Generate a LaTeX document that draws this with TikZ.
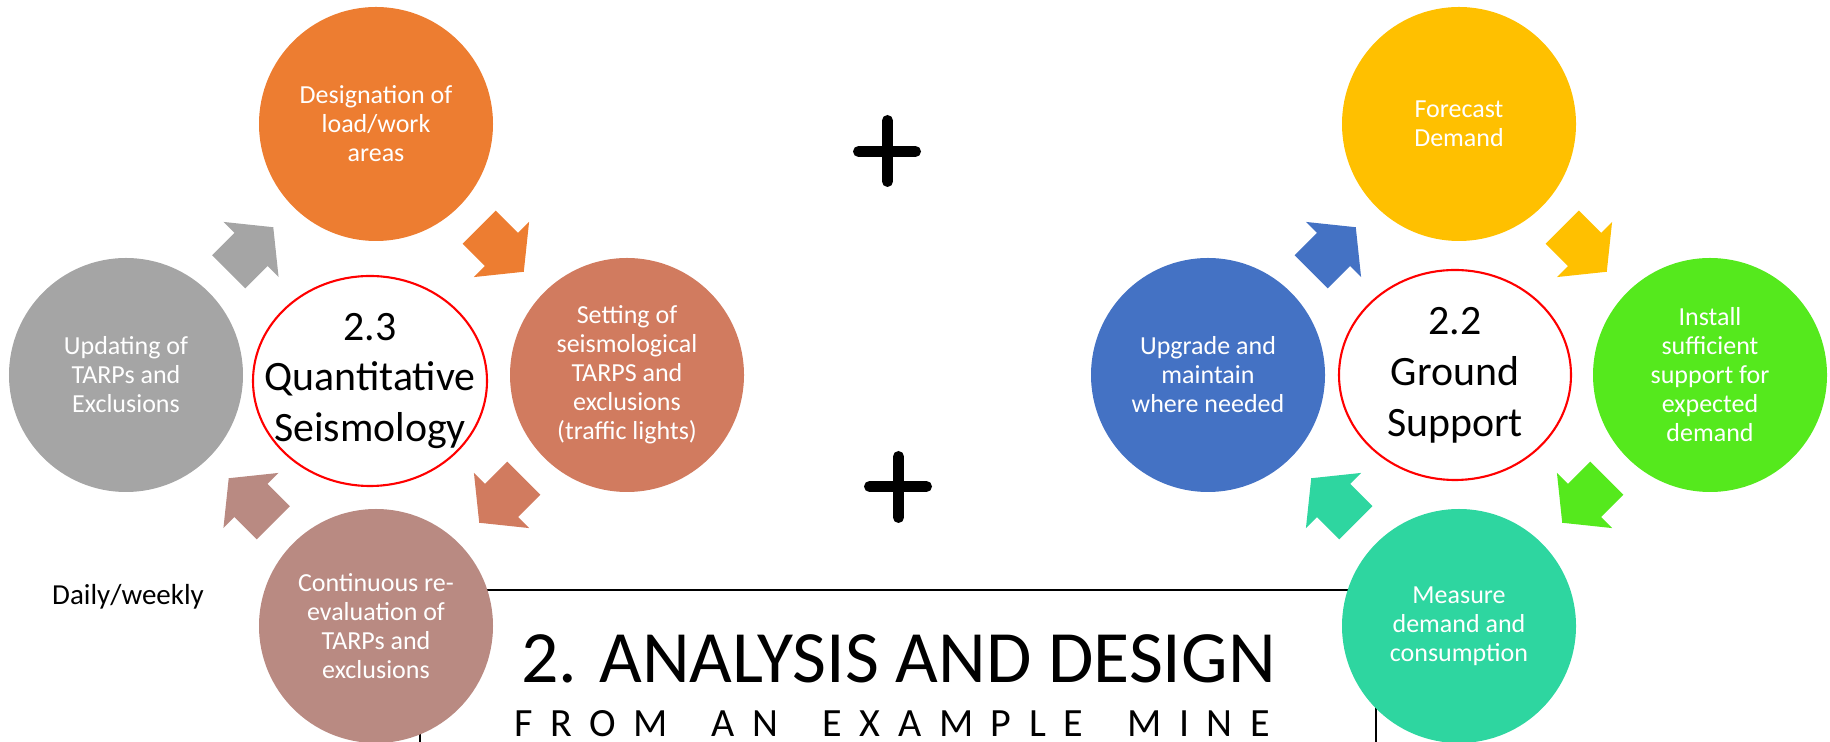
\documentclass[tikz,border=0pt]{standalone}
\usepackage{fontspec}
\setmainfont{Carlito}
\usetikzlibrary{calc}

\definecolor{desigorange}{HTML}{ED7D31}
\definecolor{settingred}{HTML}{D17B5F}
\definecolor{reevalrose}{HTML}{B98A82}
\definecolor{updategray}{HTML}{A5A5A5}
\definecolor{forecastgold}{HTML}{FFC000}
\definecolor{installgreen}{HTML}{55E91D}
\definecolor{measureteal}{HTML}{2ED6A0}
\definecolor{upgradeblue}{HTML}{4472C4}

% letter spaced caps for the subtitle
\newdimen\spreadgap \spreadgap=5pt
\makeatletter
\newcommand{\spreadout}[1]{\@tfor\spread@ch:=#1\do{\spread@ch\kern\spreadgap}\kern-\spreadgap}
\makeatother

\tikzset{
  stage/.style={circle, minimum size=2.34cm, inner sep=0pt, fill=#1, text=white,
    align=center, font=\fontsize{7.4}{8.25}\selectfont},
  hub/.style={inner sep=0pt, align=center, font=\fontsize{11.9}{14.5}\selectfont},
  hubring/.style={draw=red, line width=0.6pt},
  plus/.style={line width=0.11cm, line cap=round},
  pics/cyclearrow/.style={code={
    \fill[#1] (-0.315,-0.235) -- (0,-0.235) -- (0,-0.39) -- (0.315,0) -- (0,0.39)
      -- (0,0.235) -- (-0.315,0.235) -- cycle;
  }}
}

\begin{document}
\begin{tikzpicture}
    \useasboundingbox (0,0) rectangle (18.3,7.42);

    % frame lines under the circles
    \draw[line width=0.8pt] (4.80,1.52) -- (13.55,1.52);
    \draw[line width=0.8pt] (4.20,0.40) -- (4.20,0);
    \draw[line width=0.8pt] (13.76,0.40) -- (13.76,0);

    % 2.3 seismology cycle
    \node[stage=desigorange] (desig) at (3.76,6.18) {Designation of\\load/work\\areas};
    \node[stage=settingred] (setting) at (6.27,3.67) {Setting of\\seismological\\TARPS and\\exclusions\\(traffic lights)};
    \node[stage=reevalrose] (reeval) at (3.76,1.16) {Continuous re-\\evaluation of\\TARPs and\\exclusions};
    \node[stage=updategray] (upd) at (1.26,3.67) {Updating of\\TARPs and\\Exclusions};
    \node[hub] (seismo) at (3.70,3.61) {2.3\\Quantitative\\Seismology};
    \draw[hubring] (seismo.center) ellipse [x radius=1.17, y radius=1.05];

    \pic[rotate=45] at ($(upd)!0.5!(desig)$) {cyclearrow=updategray};
    \pic[rotate=-45] at ($(desig)!0.5!(setting)$) {cyclearrow=desigorange};
    \pic[rotate=-135] at ($(setting)!0.5!(reeval)$) {cyclearrow=settingred};
    \pic[rotate=135] at ($(reeval)!0.5!(upd)$) {cyclearrow=reevalrose};

    % 2.2 ground support cycle
    \node[stage=forecastgold] (forecast) at (14.59,6.18) {Forecast\\Demand};
    \node[stage=installgreen] (install) at (17.10,3.67) {Install\\sufficient\\support for\\expected\\demand};
    \node[stage=measureteal] (measure) at (14.59,1.16) {Measure\\demand and\\consumption};
    \node[stage=upgradeblue] (upgrade) at (12.08,3.67) {Upgrade and\\maintain\\where needed};
    \node[hub] (ground) at (14.55,3.67) {2.2\\Ground\\Support};
    \draw[hubring] (ground.center) ellipse [x radius=1.16, y radius=1.05];

    \pic[rotate=45] at ($(upgrade)!0.5!(forecast)$) {cyclearrow=upgradeblue};
    \pic[rotate=-45] at ($(forecast)!0.5!(install)$) {cyclearrow=forecastgold};
    \pic[rotate=-135] at ($(install)!0.5!(measure)$) {cyclearrow=installgreen};
    \pic[rotate=135] at ($(measure)!0.5!(upgrade)$) {cyclearrow=measureteal};

    % plus signs
    \draw[plus] (8.875,6.215) -- (8.875,5.605) (8.585,5.905) -- (9.155,5.905);
    \draw[plus] (8.985,2.855) -- (8.985,2.245) (8.695,2.555) -- (9.265,2.555);

    \node[anchor=base, font=\fontsize{8.25}{10}\selectfont] (daily) at (1.28,1.37) {Daily/weekly};
    \node[anchor=base, font=\fontsize{21}{25}\selectfont] (title) at (8.985,0.59) {2. ANALYSIS AND DESIGN};
    \node[anchor=base, font=\fontsize{11.4}{13}\selectfont] (subtitle) at (8.92,0.05) {\spreadout{FROM~AN~EXAMPLE~MINE}};
\end{tikzpicture}
\end{document}
